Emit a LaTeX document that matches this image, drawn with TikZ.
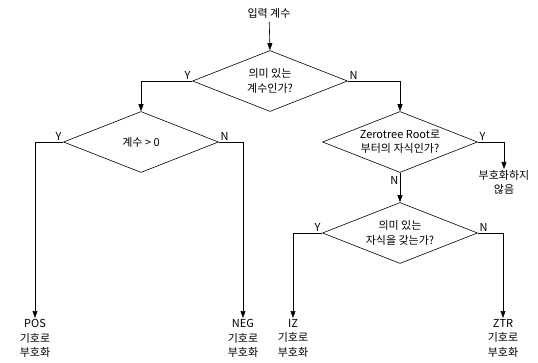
\documentclass[tikz,border=0pt]{standalone}
\usepackage{fontspec}
\setmainfont{Noto Sans CJK KR}
\usetikzlibrary{arrows.meta,positioning,shapes.geometric}

\begin{document}
\begin{tikzpicture}[x=1pt,y=-1pt,line width=.6pt,>={Triangle[length=7pt,width=5pt]},
  every node/.style={font=\fontsize{11}{14.5}\selectfont},
  test/.style={draw,diamond,aspect=2.5,inner sep=0pt,minimum width=155pt,minimum height=61pt,align=center},
  result/.style={align=center,anchor=north,inner sep=1pt},
  yn/.style={inner sep=1.5pt}]
\useasboundingbox (0,0) rectangle (538,363);
\node (in) at (269,13) {입력 계수};
\node[test] (sig) at (270,81) {의미 있는\\계수인가?};
\node[test] (sign) at (141,142) {계수 > 0};
\node[test] (root) at (400,142) {Zerotree Root로\\부터의 자식인가?};
\node[test] (child) at (400,233) {의미 있는\\자식을 갖는가?};
\node[result] (skip) at (504,169) {부호화하지\\않음};
\node[result] (pos) at (35,318) {POS\\기호로\\부호화};
\node[result] (neg) at (243,318) {NEG\\기호로\\부호화};
\node[result] (iz) at (293,318) {IZ\\기호로\\부호화};
\node[result] (ztr) at (503,318) {ZTR\\기호로\\부호화};
\draw[->] (in) -- (sig.north);
\draw[->] (sig.west) -| (sign.north) node[pos=0,yn,above left] {Y};
\draw[->] (sig.east) -| (root.north) node[pos=0,yn,above right] {N};
\draw[->] (sign.west) -| (pos.north) node[pos=0,yn,above left] {Y};
\draw[->] (sign.east) -| (neg.north) node[pos=0,yn,above right] {N};
\draw[->] (root.east) -| (skip.north) node[pos=0,yn,above right] {Y};
\draw[->] (root.south) -- (child.north) node[pos=.25,yn,left] {N};
\draw[->] (child.west) -| (iz.north) node[pos=0,yn,above left] {Y};
\draw[->] (child.east) -| (ztr.north) node[pos=0,yn,above right] {N};
\end{tikzpicture}
\end{document}
